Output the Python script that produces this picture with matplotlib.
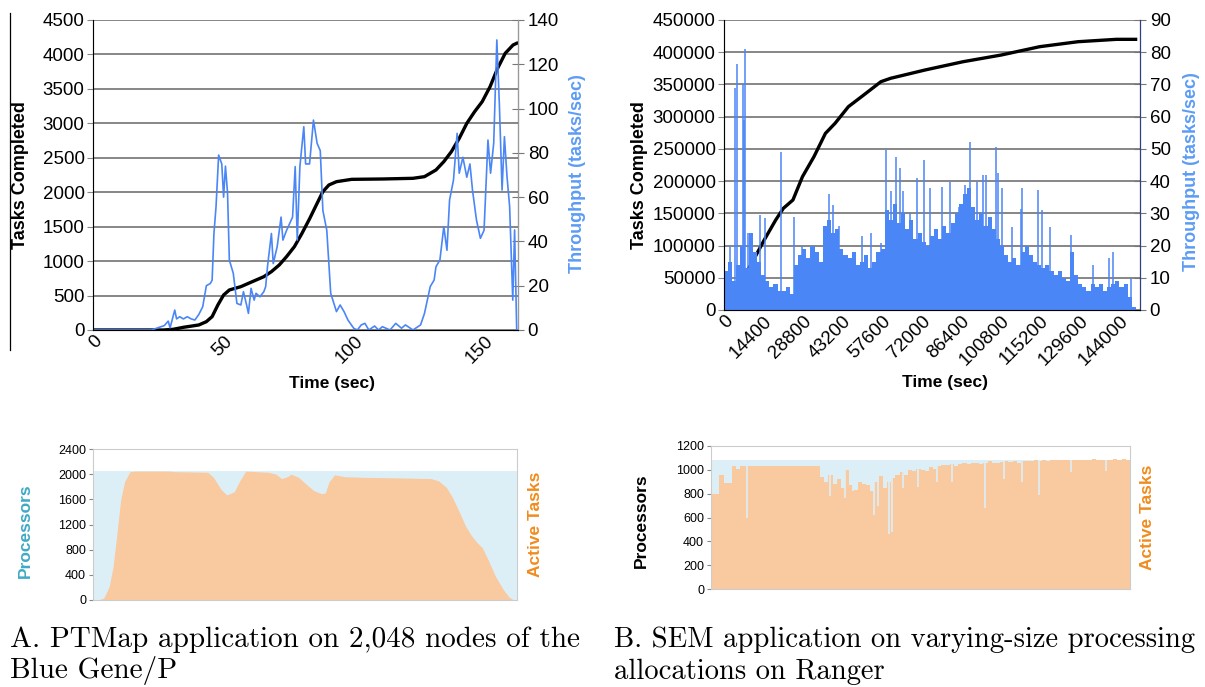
#!/usr/bin/env python3
import numpy as np
import matplotlib
matplotlib.use("Agg")
import matplotlib.pyplot as plt
from matplotlib.lines import Line2D

plt.rcParams["font.family"] = ["Liberation Sans", "DejaVu Sans"]

# ---- panel A (PTMap, Blue Gene/P) ----
a_thr_t = [0, 22.4, 27.3, 28.8, 29.5, 31.3, 32, 33.2, 34.6, 36.1, 37.6, 39, 40.5, 42, 43.4,
           44.9, 45.6, 46.3, 47.1, 48.1, 49.3, 50, 50.7, 51.5, 52.2, 53.7, 55.1, 56.6, 57.6,
           58.8, 59.5, 60.5, 61.7, 62.4, 63.9, 65.4, 66.1, 66.8, 68.3, 69, 70.5, 72, 72.7,
           74.1, 76.4, 77.4, 78.2, 79.2, 80.7, 81.4, 82.9, 84.4, 85.8, 87, 88, 89.5, 91,
           93.2, 94.6, 96.1, 97.6, 99.8, 101.2, 102.7, 104.1, 105.6, 107.8, 109.3, 110.8,
           113.7, 115.9, 118.1, 119.6, 122.5, 125.4, 126.9, 129.1, 130.6, 131.3, 132.8,
           134.3, 135.5, 136.5, 138, 139.4, 140.2, 141.6, 143.1, 144.3, 145.3, 146.8, 148.3,
           149.7, 151.2, 152.2, 153.4, 154.6, 155.6, 156.6, 157.5, 158.5, 159.5, 160.7,
           161.4, 162.2]
a_thr_v = [0, 0, 2, 4, 1, 9, 5, 6, 5, 6, 5, 4.5, 7, 10.5, 20,
           21, 22.5, 43.6, 55.7, 79, 75, 60, 74, 62, 31.6, 25.6, 12, 11.3, 17.3,
           11.3, 7.5, 18.8, 13.5, 16.6, 15, 17.3, 19.6, 28.6, 43.6, 30, 37.6, 51, 40.6,
           45, 51, 73.8, 40.6, 73.8, 91.8, 75, 75, 94.8, 84.3, 81, 54, 45, 16.6,
           8.3, 11.3, 8.3, 4.5, 0.8, 0, 2.3, 3, 0, 1.8, 0, 1.5,
           0, 3, 0.8, 2.3, 0, 2.3, 7.5, 19.6, 22.6, 28.6, 31.6,
           46.7, 36, 58.7, 67.7, 88.8, 70.8, 78, 69, 75, 63, 49.7, 41.4,
           45, 85.8, 70.8, 84.3, 131, 100.9, 63.2, 87.3, 69.2, 55.7, 13.5,
           45.2, 0]

a_done_t = [0, 27, 30.7, 34.6, 40.5, 43.4, 45.6, 47.8, 50, 52.2, 56.6, 61, 65.4, 68.3, 71.3,
            74.1, 77.1, 80, 83, 85.8, 88, 90.3, 93.2, 99, 110.8, 122.5, 126.9, 131.3, 134.3,
            137.2, 140.2, 143.1, 146.1, 149, 152, 154.9, 157.8, 160.8, 162.2]
a_done_v = [0, 0, 10, 39, 73, 121, 194, 363, 508, 581, 629, 702, 774, 847, 944,
            1065, 1210, 1403, 1621, 1839, 2008, 2105, 2153, 2187, 2192, 2202, 2226, 2323, 2444,
            2589, 2782, 3000, 3170, 3315, 3532, 3799, 4016, 4137, 4162]

a_act_t = [0, 1.9, 4.1, 6.2, 7.7, 9.2, 10.6, 12.1, 14.2, 15.7, 29.5, 31, 44, 46.2, 49.1,
           51.3, 54.2, 56.4, 58.6, 67.3, 70.2, 72.4, 74.6, 76, 78.9, 81.8, 84.7, 87.6, 89.1,
           90.6, 92.7, 96.4, 103.6, 118.2, 129.8, 132.7, 135.6, 137.8, 140, 142.9, 145.1,
           147.2, 149.4, 151.6, 154.5, 157.4, 159.6, 161, 162.5]
a_act_v = [0, 0, 30, 210, 530, 1060, 1590, 1880, 2040, 2048, 2048, 2040, 2030, 1950, 1760,
           1670, 1720, 1900, 2048, 2030, 2000, 1930, 1960, 2000, 1950, 1840, 1740, 1690, 1700,
           1880, 1990, 1960, 1950, 1940, 1930, 1890, 1790, 1640, 1450, 1180, 1030,
           920, 830, 640, 370, 170, 50, 10, 0]
a_procs = 2048

# ---- panel B (SEM, Ranger) ----
b_done_t = [0, 2790, 9760, 14640, 18820, 21600, 25100, 28580, 32760, 36940, 40430, 45300,
            50880, 57150, 60640, 73200, 87100, 101000, 115000, 128900, 142900, 149900]
b_done_v = [0, 25900, 69800, 108600, 139600, 157700, 170700, 206900, 237900, 274100, 289600,
            315500, 333600, 354300, 359500, 372400, 385300, 395700, 408600, 416300, 420000,
            420000]

b_bin = 1500
b_thr_base = [12, 15, 9, 14, 20, 13, 24, 18, 15, 11,
              9, 7, 8, 6, 6, 7, 5, 14, 17, 19,
              16, 20, 18, 15, 26, 28, 24, 25, 19, 17,
              16, 18, 14, 15, 17, 13, 15, 18, 19, 31,
              28, 33, 27, 30, 25, 28, 22, 24, 21, 20,
              23, 25, 22, 26, 24, 27, 30, 33, 36, 38,
              32, 28, 30, 26, 29, 25, 22, 20, 17, 15,
              16, 14, 18, 20, 17, 15, 14, 13, 14, 12,
              11, 12, 10, 9, 18, 11, 8, 7, 6, 8,
              7, 8, 6, 7, 8, 9, 7, 8, 4, 1]
b_spike_t = [2090, 4180, 4880, 6970, 7390, 7670, 8800, 9760, 13240, 14900, 20900, 25370,
             28580, 32760, 38060, 39730, 41820, 50180, 53670, 57150, 58970, 60920, 62730,
             64120, 65100, 67610, 70120, 72910, 74860, 77370, 79460, 82250, 85730, 87820,
             89630, 92000, 94500, 95500, 98970, 99670, 101070, 104970, 108040, 108700,
             114300, 115700, 118900, 126400, 134500, 140100, 141500, 145000, 148200]
b_spike_v = [20, 69, 76.5, 70, 59, 81, 24, 23, 29.5, 28.5, 49, 29,
             20, 19.7, 36, 32.6, 26, 23, 23.8, 20.7, 49.7, 37, 47.6,
             44, 37, 30, 41, 46.5, 37.8, 21.7, 38.3, 39.8, 32, 38.8,
             52, 39.8, 42, 42, 50.7, 42.4, 38, 25.8, 31.5, 37.8,
             37.2, 31, 25.8, 23.3, 14, 16, 18, 7, 10]

b_act_bin = 1510
b_active = [800, 800, 960, 890, 890, 1030, 1010, 1030, 1030,
            1030, 1030, 1030, 1030, 1030, 1030, 1030, 1030, 1030, 1030, 1030, 1030, 1030,
            1030, 1030, 1030, 1030,
            940, 900, 960, 880, 920, 850, 1000, 870, 830, 900, 880, 870,
            820, 900, 950, 850, 900, 930, 960,
            980, 960, 1000, 990, 1010, 1000, 990, 1020, 1010, 1030, 1040,
            1040, 1050, 1030, 1050, 1060, 1050, 1060, 1060, 1050, 1060, 1070, 1060, 1060,
            1065, 1070,
            1065, 1070, 1060, 1075, 1070, 1075, 1080, 1075, 1080, 1070, 1080, 1085, 1080,
            1085, 1080, 1085, 1085, 1080, 1085, 1085, 1090, 1085, 1085, 1080, 1085, 1090,
            1085, 1090, 1085]
b_dip_t = [13100, 42800, 48350, 51100, 58700, 60100, 64240, 65200, 69080, 74600, 81500,
           87000, 98800, 105700, 111900, 118100, 129900, 142300]
b_dip_v = [600, 780, 760, 820, 620, 700, 460, 480, 850, 860, 900,
           900, 680, 920, 900, 790, 980, 990]
b_procs = 1085

W, H = 1205, 687
fig = plt.figure(figsize=(W / 100, H / 100), dpi=100)


def rect(l, t, r, b):
    return [l / W, 1 - b / H, (r - l) / W, (b - t) / H]


def ftext(x, y, s, **kw):
    fig.text(x / W, 1 - y / H, s, **kw)


BLUE = "#4B86F7"
LBLUE = "#5C9CF5"
PEACH = "#F9C9A0"
PALE = "#DDEFF6"
TEAL = "#3FA9C6"
ORANGE = "#F08C1E"
GRID = "#666666"


def top_style(ax, ax2, rcolor):
    ax.grid(axis="y", color=GRID, lw=1.1)
    ax.set_axisbelow(True)
    ax.spines["top"].set_visible(False)
    ax2.spines["top"].set_visible(False)
    for s in ["left", "bottom"]:
        ax.spines[s].set_color("#999999")
    ax2.spines["right"].set_color(rcolor)
    ax.tick_params(axis="both", length=4, color="#888888", labelsize=13.5, pad=2)
    ax2.tick_params(axis="y", direction="inout", length=8, color="#777777",
                    labelsize=13.5, pad=3)
    ax.tick_params(axis="x", length=0)
    for lab in ax.get_xticklabels():
        lab.set_rotation(45)
        lab.set_ha("right")
        lab.set_rotation_mode("anchor")


# top A
ax = fig.add_axes(rect(93, 20, 518, 330))
ax2 = ax.twinx()
ax.plot(a_done_t, a_done_v, color="black", lw=2.4, zorder=3)
ax2.plot(a_thr_t, a_thr_v, color=BLUE, lw=1.2)
ax.set_xlim(0, 162.7)
ax.set_ylim(0, 4500)
ax2.set_ylim(0, 140)
ax.set_xticks([0, 50, 100, 150])
ax.set_yticks(np.arange(0, 4501, 500))
ax2.set_yticks(np.arange(0, 141, 20))
top_style(ax, ax2, "#999999")
ftext(21, 175, "Tasks Completed", rotation=90, ha="center", va="center",
      fontsize=13, fontweight="bold")
ftext(577, 174, "Throughput (tasks/sec)", rotation=90, ha="center", va="center",
      fontsize=13, fontweight="bold", color=LBLUE)
ftext(332, 383, "Time (sec)", ha="center", va="center", fontsize=12.5, fontweight="bold")
fig.add_artist(Line2D([10 / W, 10 / W], [1 - 13 / H, 1 - 350 / H], color="black", lw=0.9))

# top B
bx = fig.add_axes(rect(724, 20, 1140, 310))
bx2 = bx.twinx()
bx.plot(b_done_t, b_done_v, color="black", lw=2.4)
base_t = np.arange(len(b_thr_base)) * b_bin
bx2.bar(base_t, b_thr_base, width=b_bin, align="edge", color=BLUE, lw=0)
bx2.vlines(b_spike_t, 0, b_spike_v, color=BLUE, lw=1.1)
bx.set_xlim(0, 151500)
bx.set_ylim(0, 450000)
bx2.set_ylim(0, 90)
bx.set_xticks(np.arange(0, 144001, 14400))
bx.set_yticks(np.arange(0, 450001, 50000))
bx2.set_yticks(np.arange(0, 91, 10))
top_style(bx, bx2, "#2C3F8C")
ftext(639, 175, "Tasks Completed", rotation=90, ha="center", va="center",
      fontsize=13, fontweight="bold")
ftext(1191, 172, "Throughput (tasks/sec)", rotation=90, ha="center", va="center",
      fontsize=13, fontweight="bold", color=LBLUE)
ftext(945, 382, "Time (sec)", ha="center", va="center", fontsize=12.5, fontweight="bold")


def bottom_style(ax):
    for s in ax.spines.values():
        s.set_color("#CCCCCC")
    ax.set_xticks([])
    ax.tick_params(axis="y", length=3, color="#888888", labelsize=9, pad=2)


# bottom A
cx = fig.add_axes(rect(93, 449, 517, 600))
cx.fill_between([0, 162.7], 0, a_procs, color=PALE, lw=0)
cx.fill_between(a_act_t, 0, a_act_v, color=PEACH, lw=0)
cx.set_xlim(0, 162.7)
cx.set_ylim(0, 2400)
cx.set_yticks(np.arange(0, 2401, 400))
bottom_style(cx)
ftext(25, 531, "Processors", rotation=90, ha="center", va="center",
      fontsize=12.5, fontweight="bold", color=TEAL)
ftext(536, 524, "Active Tasks", rotation=90, ha="center", va="center",
      fontsize=12.5, fontweight="bold", color=ORANGE)

# bottom B
dx = fig.add_axes(rect(711, 446, 1130, 589))
dx.fill_between([0, 151000], 0, b_procs, color=PALE, lw=0)
act_t = np.arange(len(b_active)) * b_act_bin
dx.bar(act_t, b_active, width=b_act_bin, align="edge", color=PEACH, lw=0)
dx.vlines(b_dip_t, b_dip_v, b_procs, color=PALE, lw=1.2)
dx.set_xlim(0, 151000)
dx.set_ylim(0, 1200)
dx.set_yticks(np.arange(0, 1201, 200))
bottom_style(dx)
ftext(641, 521, "Processors", rotation=90, ha="center", va="center",
      fontsize=12.5, fontweight="bold", color="black")
ftext(1148, 517, "Active Tasks", rotation=90, ha="center", va="center",
      fontsize=12.5, fontweight="bold", color=ORANGE)

# captions
cap = dict(fontsize=21, family="cmr10", va="baseline", ha="left")
ftext(10, 647, "A. PTMap application on 2,048 nodes of the", **cap)
ftext(10, 678, "Blue Gene/P", **cap)
capb = dict(cap, fontsize=20.6)
ftext(614, 647, "B. SEM application on varying-size processing", **capb)
ftext(614, 679, "allocations on Ranger", **capb)

fig.savefig("out.png", dpi=100)
